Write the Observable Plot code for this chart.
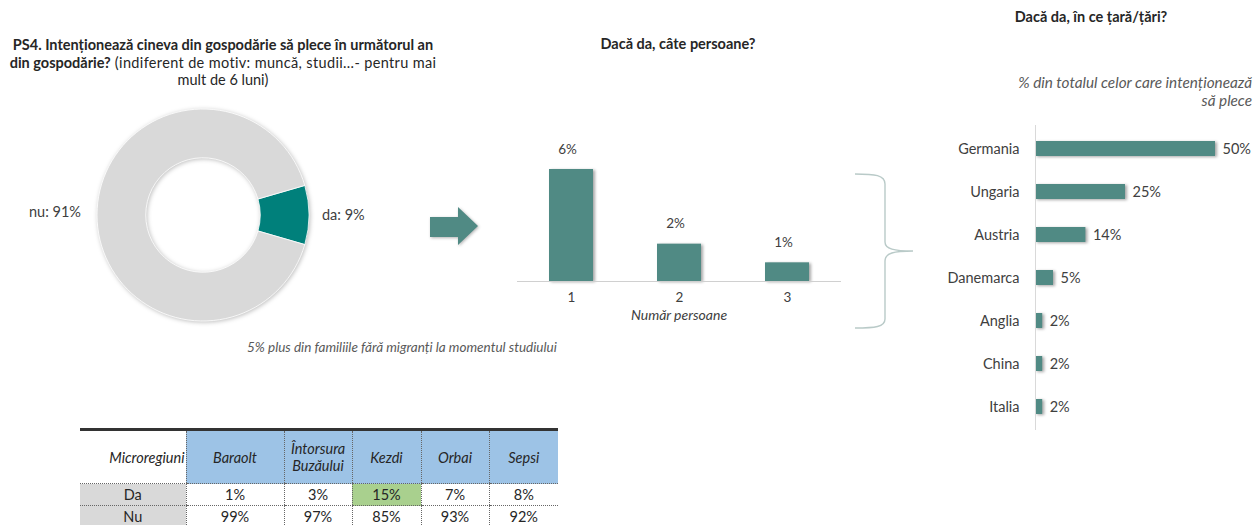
<!DOCTYPE html>
<html>
<head>
<meta charset="utf-8">
<script src="https://cdn.jsdelivr.net/npm/d3@7"></script>
<script src="https://cdn.jsdelivr.net/npm/@observablehq/plot@0.6"></script>
<style>
  html, body { margin: 0; padding: 0; background: #fff; }
  #root { position: relative; width: 1256px; height: 525px; overflow: hidden; font-family: Lato, "Open Sans", sans-serif; color: #404040; }
  .abs { position: absolute; white-space: nowrap; line-height: 18px; }
  .t-bold { font-weight: bold; color: #262626; }
  svg.mid g[aria-label="bar"] rect, svg.right g[aria-label="bar"] rect { filter: drop-shadow(2px 1px 1.5px rgba(0,0,0,0.35)); }
  table.micro { position: absolute; left: 80px; top: 428px; border-collapse: collapse; font-size: 14.5px; color: #262626; border-top: 3px solid #333; table-layout: fixed; }
  table.micro td { padding: 0; text-align: center; border-left: 1px dotted #666; border-bottom: 1px dotted #666; }
  table.micro tr.hdr td { height: 52px; background: #9dc3e6; font-style: italic; line-height: 17px; }
  table.micro tr.hdr td.first { background: #fff; text-align: right; padding-right: 1px; border-left: none; }
  table.micro tr.row td { height: 21px; background: #fff; }
  table.micro tr.row td.first { background: #d9d9d9; border-left: none; }
  table.micro td.hl { background: #a9d08e !important; }
</style>
</head>
<body>
<div id="root"></div>
<script>
// ---------- data ----------
const donutLabels = ["da", "nu"];
const donutValues = [9, 91];

const personCounts = [1, 2, 3];
const personPct = [6, 2, 1];

const countries = ["Germania", "Ungaria", "Austria", "Danemarca", "Anglia", "China", "Italia"];
const countryPct = [50, 25, 14, 5, 2, 2, 2];

const regions = ["Baraolt", "Întorsura Buzăului", "Kezdi", "Orbai", "Sepsi"];
const daByRegion = [1, 3, 15, 7, 8];
const nuByRegion = [99, 97, 85, 93, 92];

// ---------- helpers ----------
const root = document.getElementById("root");
function addDiv(html, style) {
  const d = document.createElement("div");
  d.className = "abs";
  d.innerHTML = html;
  Object.assign(d.style, style);
  root.appendChild(d);
  return d;
}
function place(svg, left, top, cls) {
  svg.style.position = "absolute";
  svg.style.left = left + "px";
  svg.style.top = top + "px";
  svg.style.overflow = "visible";
  if (cls) svg.classList.add(cls);
  root.appendChild(svg);
}

const teal = "#508a84";
const donutTeal = "#00807b";
const gray = "#d9d9d9";

// ---------- titles & notes ----------
addDiv('<span class="t-bold">PS4. Intenționează cineva din gospodărie să plece în următorul an<br>din gospodărie?</span><span style="letter-spacing:0.35px"> (indiferent de motiv: muncă, studii...- pentru mai</span><br>mult de 6 luni)',
  {left: "-7px", top: "36px", width: "460px", textAlign: "center", fontSize: "14.5px", lineHeight: "17.5px", whiteSpace: "normal", color: "#262626"});
addDiv('<span class="t-bold">Dacă da, câte persoane?</span>', {left: "578px", top: "35px", width: "200px", textAlign: "center", fontSize: "14.5px"});
addDiv('<span class="t-bold">Dacă da, în ce țară/țări?</span>', {left: "991px", top: "8px", width: "200px", textAlign: "center", fontSize: "14.5px"});
addDiv('% din totalul celor care intenționează<br>să plece', {right: "4px", top: "73px", textAlign: "right", fontSize: "15.3px", fontStyle: "italic", color: "#595959"});
addDiv('nu: 91%', {left: "29px", top: "203px", fontSize: "14.5px"});
addDiv('da: 9%', {left: "322px", top: "206px", fontSize: "14.5px"});
addDiv('5% plus din familiile fără migranți la momentul studiului', {left: "247px", top: "338px", fontSize: "13.5px", fontStyle: "italic", color: "#595959"});
addDiv('Număr persoane', {left: "579px", top: "306px", width: "200px", textAlign: "center", fontSize: "14px", fontStyle: "italic"});

// ---------- donut (Plot with custom arc mark) ----------
const donutData = donutLabels.map((k, i) => ({key: k, value: donutValues[i]}));
const daFrac = donutValues[0] / d3.sum(donutValues);
const pie = d3.pie().sort(null).value(d => d.value)
  .startAngle(Math.PI / 2 - daFrac * Math.PI)
  .endAngle(Math.PI / 2 - daFrac * Math.PI + 2 * Math.PI);
const arcs = pie(donutData);
const donut = Plot.plot({
  width: 226, height: 226, margin: 7,
  x: {domain: [-1, 1], axis: null},
  y: {domain: [-1, 1], axis: null},
  color: {domain: donutLabels, range: [donutTeal, gray]},
  marks: [
    (index, scales) => {
      const cx = scales.x(0), cy = scales.y(0);
      const R = scales.x(1) - scales.x(0);
      const arc = d3.arc().outerRadius(R).innerRadius(R * 0.54);
      const g = d3.create("svg:g").attr("transform", `translate(${cx},${cy})`)
        .style("filter", "drop-shadow(1px 1px 2px rgba(0,0,0,0.25))");
      g.selectAll("path").data(arcs).join("path")
        .attr("d", arc)
        .attr("fill", d => scales.color(d.data.key))
        .attr("stroke", "#fff").attr("stroke-width", 0.8);
      return g.node();
    }
  ]
});
place(donut, 90, 102);

// ---------- arrow & bracket (decorations) ----------
const deco = d3.create("svg").attr("width", 1256).attr("height", 525)
  .style("position", "absolute").style("left", "0px").style("top", "0px").style("pointer-events", "none");
deco.append("path").attr("d", "M430,217 L458,217 L458,207 L478,226 L458,245 L458,237 L430,237 Z")
  .attr("fill", teal).style("filter", "drop-shadow(1px 1px 1.5px rgba(0,0,0,0.3))");
deco.append("path")
  .attr("d", "M855,174 C875,174 885,175 885,184 L885,242 C885,249 894,251 913,251 C894,251 885,253 885,261 L885,319 C885,327 875,328 855,328")
  .attr("fill", "none").attr("stroke", "#b9cac8").attr("stroke-width", 1.4);
root.appendChild(deco.node());

// ---------- middle bar chart ----------
const personData = personCounts.map((c, i) => ({n: c, v: personPct[i]}));
const mid = Plot.plot({
  width: 360, height: 210,
  marginLeft: 17, marginRight: 19, marginTop: 49, marginBottom: 49,
  style: {fontFamily: "Lato, sans-serif", fontSize: "13.5px", color: "#404040", background: "transparent"},
  x: {domain: personCounts, paddingInner: 0.593, paddingOuter: 0.296, tickSize: 0, tickPadding: 11, label: null},
  y: {domain: [0, 6], axis: null},
  marks: [
    Plot.barY(personData, {x: "n", y: "v", fill: teal}),
    Plot.ruleY([0], {stroke: "#d0d0d0", strokeWidth: 1.2}),
    Plot.text(personData, {x: "n", y: "v", text: d => d.v + "%", dy: -20, dx: -4, fill: "#404040", fontSize: 13.5})
  ]
});
place(mid, 500, 120, "mid");

// ---------- right bar chart ----------
const countryData = countries.map((c, i) => ({c, v: countryPct[i]}));
const right = Plot.plot({
  width: 356, height: 330,
  marginLeft: 135, marginRight: 41, marginTop: 15, marginBottom: 10,
  style: {fontFamily: "Lato, sans-serif", fontSize: "14.5px", color: "#404040", background: "transparent"},
  x: {domain: [0, 50], axis: null},
  y: {domain: countries, paddingInner: 0.656, paddingOuter: 0.328, tickSize: 0, tickPadding: 16, label: null},
  marks: [
    Plot.barX(countryData, {y: "c", x: "v", fill: teal}),
    Plot.ruleX([0], {stroke: "#d9d9d9", strokeWidth: 1}),
    Plot.text(countryData, {y: "c", x: "v", text: d => d.v + "%", dx: 7, textAnchor: "start", fill: "#404040", fontSize: 14.5})
  ]
});
place(right, 900, 110, "right");

// ---------- table ----------
const table = document.createElement("table");
table.className = "micro";
const colW = [106, 98, 68, 69, 68, 69];
let html = '<colgroup>' + colW.map(w => '<col style="width:' + w + 'px">').join('') + '</colgroup>';
html += '<tr class="hdr"><td class="first">Microregiuni</td>';
regions.forEach((r) => {
  const label = r === "Întorsura Buzăului" ? "Întorsura<br>Buzăului" : r;
  html += '<td>' + label + '</td>';
});
html += '</tr><tr class="row"><td class="first">Da</td>';
const maxDa = d3.max(daByRegion);
daByRegion.forEach(v => { html += '<td' + (v === maxDa ? ' class="hl"' : '') + '>' + v + '%</td>'; });
html += '</tr><tr class="row"><td class="first">Nu</td>';
nuByRegion.forEach(v => { html += '<td>' + v + '%</td>'; });
html += '</tr>';
table.innerHTML = html;
table.style.width = d3.sum(colW) + "px";
root.appendChild(table);
</script>
</body>
</html>
